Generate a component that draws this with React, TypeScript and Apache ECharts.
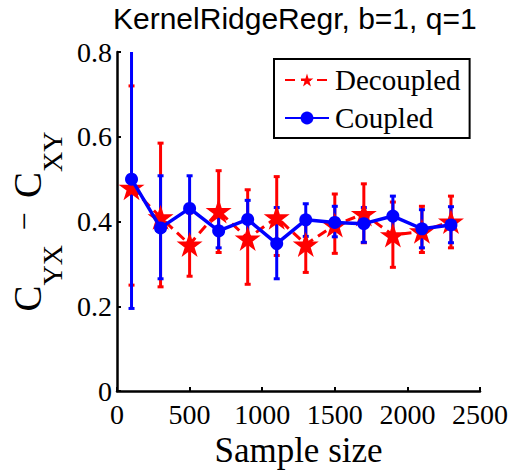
import React, { useEffect, useRef } from "react";
import * as echarts from "echarts";

const sampleSizes = [100, 300, 500, 700, 900, 1100, 1300, 1500, 1700, 1900, 2100, 2300];
const decoupledMean = [0.48, 0.41, 0.346, 0.425, 0.36, 0.41, 0.346, 0.392, 0.418, 0.368, 0.377, 0.4];
const decoupledLow = [0.25, 0.246, 0.271, 0.327, 0.252, 0.32, 0.28, 0.325, 0.35, 0.292, 0.327, 0.338];
const decoupledHigh = [0.72, 0.585, 0.42, 0.52, 0.475, 0.506, 0.41, 0.465, 0.489, 0.446, 0.436, 0.46];
const coupledMean = [0.5, 0.385, 0.431, 0.378, 0.405, 0.348, 0.404, 0.398, 0.395, 0.413, 0.383, 0.392];
const coupledLow = [0.195, 0.265, 0.35, 0.338, 0.364, 0.265, 0.365, 0.364, 0.351, 0.368, 0.338, 0.35];
const coupledHigh = [0.81, 0.508, 0.508, 0.42, 0.45, 0.433, 0.442, 0.436, 0.433, 0.46, 0.428, 0.435];
const xTicks = { min: 0, max: 2500, interval: 500 };
const yTicks = { min: 0, max: 0.8, interval: 0.2 };

const STAR =
  "path://M0,-100 L22.45,-30.9 L95.1,-30.9 L36.3,11.8 L58.8,80.9 L0,38.2 L-58.8,80.9 L-36.3,11.8 L-95.1,-30.9 L-22.45,-30.9 Z";

const SERIF = "Liberation Serif";

function errorSeries(name: string, low: number[], high: number[], color: string) {
  const data = sampleSizes.map((x, i) => [x, low[i], high[i]]);
  return {
    type: "custom",
    name: name + "-err",
    clip: true,
    silent: true,
    data,
    encode: { x: 0, y: [1, 2] },
    renderItem: (params: any, api: any) => {
      const x = api.value(0);
      const lo = api.coord([x, api.value(1)]);
      const hi = api.coord([x, api.value(2)]);
      const hw = 3;
      const style = { stroke: color, lineWidth: 3 };
      return {
        type: "group",
        children: [
          { type: "line", shape: { x1: lo[0], y1: lo[1], x2: hi[0], y2: hi[1] }, style },
          { type: "line", shape: { x1: lo[0] - hw, y1: lo[1], x2: lo[0] + hw, y2: lo[1] }, style },
          { type: "line", shape: { x1: hi[0] - hw, y1: hi[1], x2: hi[0] + hw, y2: hi[1] }, style },
        ],
      };
    },
    z: 1,
  };
}

export default function App() {
  const ref = useRef<HTMLDivElement>(null);
  useEffect(() => {
    if (!ref.current) return;
    const chart = echarts.init(ref.current, undefined, { renderer: "svg" });
    chart.setOption({
      animation: false,
      backgroundColor: "#ffffff",
      title: {
        text: "KernelRidgeRegr, b=1, q=1",
        left: 113,
        top: 3,
        padding: 0,
        textStyle: { fontFamily: "Liberation Sans", fontSize: 30, fontWeight: "normal", color: "#000" },
      },
      grid: { left: 117, right: 33, top: 52, bottom: 75, containLabel: false },
      legend: {
        orient: "vertical",
        left: 274,
        top: 59,
        padding: [6, 9, 5, 10],
        itemGap: 8,
        itemWidth: 44,
        itemHeight: 16,
        borderColor: "#000",
        borderWidth: 2,
        backgroundColor: "#fff",
        data: ["Decoupled", "Coupled"],
        textStyle: { fontFamily: SERIF, fontSize: 29, lineHeight: 30, color: "#000", padding: [0, 0, 0, 1] },
      },
      xAxis: {
        type: "value",
        min: xTicks.min,
        max: xTicks.max,
        interval: xTicks.interval,
        name: "Sample size",
        nameLocation: "middle",
        nameGap: 34,
        nameTextStyle: { fontFamily: SERIF, fontSize: 35, color: "#000" },
        axisLine: { show: true, onZero: false, lineStyle: { color: "#000", width: 2.5 } },
        axisTick: { show: true, inside: true, length: 4, lineStyle: { color: "#000", width: 2 } },
        axisLabel: {
          fontFamily: SERIF,
          fontSize: 28,
          color: "#000",
          margin: 9,
          formatter: (v: number) => String(v),
        },
        splitLine: { show: false },
      },
      yAxis: {
        type: "value",
        min: yTicks.min,
        max: yTicks.max,
        interval: yTicks.interval,
        name: "{h|\u200a}{c|C}{s|YX}{m|\u2009 − \u2009}{c|C}{s|XY}",
        nameLocation: "middle",
        nameRotate: 90,
        nameGap: 50,
        nameTextStyle: {
          fontFamily: SERIF,
          color: "#000",
          rich: {
            h: { fontFamily: SERIF, fontSize: 1, lineHeight: 58, color: "#fff" },
            c: { fontFamily: SERIF, fontSize: 39, lineHeight: 40, verticalAlign: "top", color: "#000" },
            m: { fontFamily: SERIF, fontSize: 32, lineHeight: 32, verticalAlign: "top", color: "#000" },
            s: { fontFamily: SERIF, fontSize: 28, lineHeight: 28, verticalAlign: "bottom", color: "#000" },
          },
        },
        axisLine: { show: true, onZero: false, lineStyle: { color: "#000", width: 2.5 } },
        axisTick: { show: true, inside: true, length: 4, lineStyle: { color: "#000", width: 2 } },
        axisLabel: { fontFamily: SERIF, fontSize: 28, color: "#000", margin: 5 },
        splitLine: { show: false },
      },
      series: [
        errorSeries("Decoupled", decoupledLow, decoupledHigh, "#ff0000"),
        {
          type: "line",
          name: "Decoupled",
          data: sampleSizes.map((x, i) => [x, decoupledMean[i]]),
          symbol: STAR,
          symbolSize: [26, 25],
          itemStyle: { color: "#ff0000" },
          lineStyle: { color: "#ff0000", width: 3, type: [10, 6] },
          z: 2,
        },
        errorSeries("Coupled", coupledLow, coupledHigh, "#0000ff"),
        {
          type: "line",
          name: "Coupled",
          data: sampleSizes.map((x, i) => [x, coupledMean[i]]),
          symbol: "circle",
          symbolSize: 13,
          itemStyle: { color: "#0000ff" },
          lineStyle: { color: "#0000ff", width: 3.5 },
          z: 4,
        },
      ],
    });
    return () => chart.dispose();
  }, []);
  return (
    <div
      ref={ref}
      style={{ position: "fixed", left: 0, top: 0, width: 513, height: 473, background: "#fff" }}
    />
  );
}
